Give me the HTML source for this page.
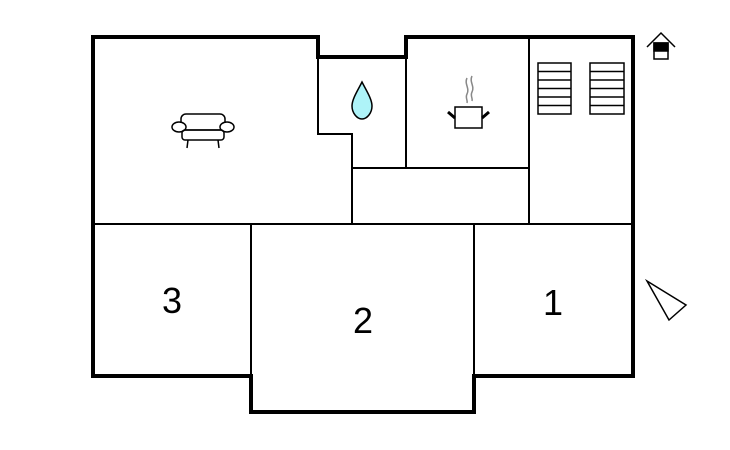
<!DOCTYPE html>
<html><head><style>body{margin:0;background:#fff}svg{display:block}</style></head><body>
<svg width="730" height="450" viewBox="0 0 730 450" xmlns="http://www.w3.org/2000/svg">
<g fill="none" stroke="#000">
<path d="M93,376 V37 H318 V57 H406 V37 H633 V376 H474 V412 H251 V376 Z" stroke-width="4"/>
<g stroke-width="2">
<path d="M318,57 V134 H352 V224"/>
<path d="M406,57 V168"/>
<path d="M352,168 H529"/>
<path d="M529,37 V224"/>
<path d="M93,224 H633"/>
<path d="M251,224 V376"/>
<path d="M474,224 V376"/>
</g>
<g stroke-width="1.5">
<rect x="538" y="63" width="33" height="51"/>
<rect x="590" y="63" width="34" height="51"/>
<path d="M538,71.5H571M538,80H571M538,88.5H571M538,97H571M538,105.5H571"/>
<path d="M590,71.5H624M590,80H624M590,88.5H624M590,97H624M590,105.5H624"/>
<path d="M362,82 C358,90 352,99 352,106 C352,113 357,119 362,119 C367,119 372,113 372,106 C372,99 366,90 362,82 Z" fill="#aef3f8"/>
<rect x="455" y="107" width="27" height="21"/>
<path d="M448,112 L455,118 M489,112 L482,118" stroke-width="3"/>
<path d="M467,78 c-3,6 3,10 0,16 c-2,4 1,6 0,9 M472,76 c-3,6 3,10 0,16 c-2,4 1,6 0,9" stroke="#888"/>
<rect x="181" y="114" width="44" height="16" rx="5"/>
<ellipse cx="179" cy="127" rx="7" ry="5" fill="#fff"/>
<ellipse cx="227" cy="127" rx="7" ry="5" fill="#fff"/>
<rect x="182" y="130" width="42" height="10" rx="3"/>
<path d="M188,140 L187,148 M218,140 L219,148"/>
<path d="M647,47 L661,33 L675,47"/>
<rect x="654" y="43" width="14" height="16"/>
<rect x="654" y="43" width="14" height="8" fill="#000"/>
<path d="M647,281 L686,305 L669,320 Z"/>
</g>
</g>
<g font-family="Liberation Sans, sans-serif" font-size="36" text-anchor="middle" fill="#000">
<text x="172" y="313">3</text>
<text x="363" y="333">2</text>
<text x="553" y="315">1</text>
</g>
</svg>
</body></html>
